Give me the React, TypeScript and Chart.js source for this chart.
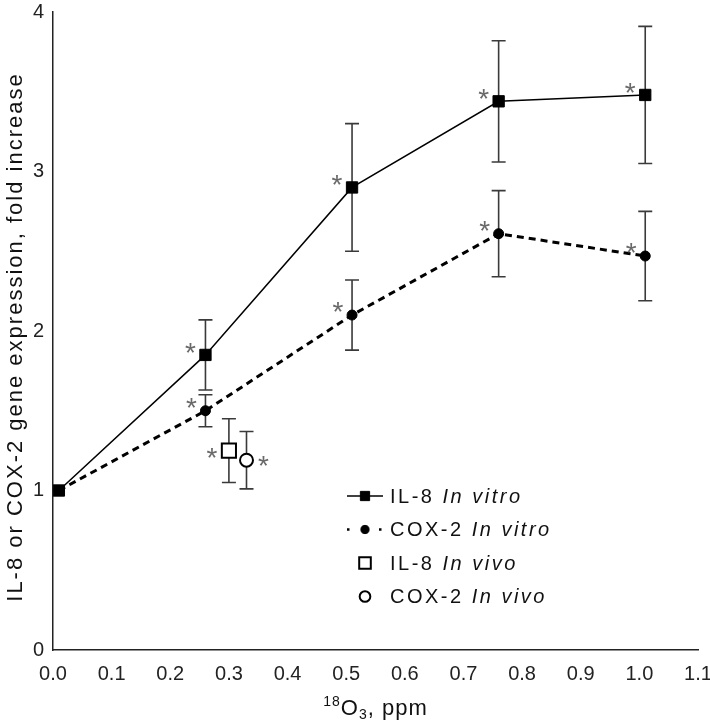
import React, { useEffect, useRef } from "react";
import { Chart, registerables } from "chart.js";

Chart.register(...registerables);

const FONT = '"Liberation Sans", Arial, Helvetica, sans-serif';

// ---------- data ----------
const xTickValues = [0, 0.1, 0.2, 0.3, 0.4, 0.5, 0.6, 0.7, 0.8, 0.9, 1.0, 1.1];
const yTickValues = [0, 1, 2, 3, 4];

const doseInVitro = [0.01, 0.26, 0.51, 0.76, 1.01];
const il8InVitro = [1.0, 1.85, 2.9, 3.44, 3.48];
const il8InVitroErr = [0, 0.22, 0.4, 0.38, 0.43];
const il8InVitroSig = [false, true, true, true, true];

const cox2InVitro = [1.0, 1.5, 2.1, 2.61, 2.47];
const cox2InVitroErr = [0, 0.1, 0.22, 0.27, 0.28];
const cox2InVitroSig = [false, true, true, true, true];

const doseIl8InVivo = [0.3];
const il8InVivo = [1.25];
const il8InVivoErr = [0.2];
const il8InVivoSig = [true];

const doseCox2InVivo = [0.33];
const cox2InVivo = [1.19];
const cox2InVivoErr = [0.18];
const cox2InVivoSig = [true];

const legendGene = ["IL-8", "COX-2", "IL-8", "COX-2"];
const legendCondition = ["In vitro", "In vitro", "In vivo", "In vivo"];

const toPoints = (xs: number[], ys: number[]) => xs.map((x, i) => ({ x, y: ys[i] }));

// ---------- plugins ----------
const spacingPlugin = {
  id: "spacing",
  beforeDraw(chart: any) {
    (chart.ctx as any).letterSpacing = "0px";
  },
};

const errorBarPlugin = {
  id: "errorBars",
  beforeDatasetsDraw(chart: any) {
    const ctx = chart.ctx;
    const xs = chart.scales.x;
    const ys = chart.scales.y;
    ctx.save();
    ctx.strokeStyle = "#3a3a3a";
    ctx.lineWidth = 1.6;
    ctx.setLineDash([]);
    chart.data.datasets.forEach((ds: any) => {
      if (!ds.errors) return;
      ds.data.forEach((p: any, j: number) => {
        const e = ds.errors[j];
        if (!e) return;
        const x = xs.getPixelForValue(p.x);
        const yt = ys.getPixelForValue(p.y + e);
        const yb = ys.getPixelForValue(p.y - e);
        ctx.beginPath();
        ctx.moveTo(x, yt);
        ctx.lineTo(x, yb);
        ctx.moveTo(x - 7, yt);
        ctx.lineTo(x + 7, yt);
        ctx.moveTo(x - 7, yb);
        ctx.lineTo(x + 7, yb);
        ctx.stroke();
      });
    });
    ctx.restore();
  },
};

const asteriskPlugin = {
  id: "asterisks",
  afterDatasetsDraw(chart: any) {
    const ctx = chart.ctx;
    const xs = chart.scales.x;
    const ys = chart.scales.y;
    ctx.save();
    ctx.fillStyle = "#6a6a6a";
    ctx.font = `28px ${FONT}`;
    (ctx as any).letterSpacing = "0px";
    ctx.textAlign = "center";
    ctx.textBaseline = "alphabetic";
    const m = ctx.measureText("*");
    const half = (m.actualBoundingBoxAscent - m.actualBoundingBoxDescent) / 2;
    chart.data.datasets.forEach((ds: any) => {
      if (!ds.sig) return;
      const [dx, dy] = ds.starOffset;
      ds.data.forEach((p: any, j: number) => {
        if (!ds.sig[j]) return;
        const x = xs.getPixelForValue(p.x) + dx;
        const y = ys.getPixelForValue(p.y) + dy;
        ctx.fillText("*", x, y + half);
      });
    });
    ctx.restore();
  },
};

function drawMarker(ctx: CanvasRenderingContext2D, style: string, r: number, x: number, y: number, fill: string, lw: number) {
  ctx.beginPath();
  if (style === "rect") {
    const s = Math.SQRT1_2 * r;
    ctx.rect(x - s, y - s, 2 * s, 2 * s);
  } else {
    ctx.arc(x, y, r, 0, Math.PI * 2);
  }
  ctx.fillStyle = fill;
  ctx.fill();
  ctx.lineWidth = lw;
  ctx.strokeStyle = "#000";
  ctx.stroke();
}

const legendPlugin = {
  id: "customLegend",
  afterDraw(chart: any) {
    const ctx = chart.ctx;
    const area = chart.chartArea;
    const x0 = area.left + 294;
    const x1 = area.left + 330;
    const xm = (x0 + x1) / 2;
    const xt = area.left + 337;
    const y0 = area.top + 484;
    const dy = 33.5;
    ctx.save();
    chart.data.datasets.forEach((ds: any, i: number) => {
      const y = y0 + i * dy;
      if (ds.showLine !== false) {
        ctx.beginPath();
        ctx.strokeStyle = "#000";
        if (ds.borderDash && ds.borderDash.length) {
          ctx.setLineDash([2.5, 13.5]);
          ctx.lineWidth = 2.5;
        } else {
          ctx.setLineDash([]);
          ctx.lineWidth = 1.5;
        }
        ctx.moveTo(x0, y);
        ctx.lineTo(x1, y);
        ctx.stroke();
        ctx.setLineDash([]);
      }
      drawMarker(ctx, ds.pointStyle, ds.pointRadius * 0.82, xm, y, ds.pointBackgroundColor, ds.pointBorderWidth);
      ctx.fillStyle = "#111";
      (ctx as any).letterSpacing = "2.5px";
      ctx.textAlign = "left";
      ctx.textBaseline = "middle";
      ctx.font = `20px ${FONT}`;
      const a = legendGene[i] + " ";
      ctx.fillText(a, xt, y + 1);
      const w = ctx.measureText(a).width;
      ctx.font = `italic 20px ${FONT}`;
      ctx.fillText(legendCondition[i], xt + w, y + 1);
    });
    ctx.restore();
  },
};

const titlesPlugin = {
  id: "axisTitles",
  afterDraw(chart: any) {
    const ctx = chart.ctx;
    const area = chart.chartArea;
    ctx.save();
    ctx.fillStyle = "#111";
    // y title
    ctx.translate(22, (area.top + area.bottom) / 2 + 6);
    ctx.rotate(-Math.PI / 2);
    ctx.font = `22px ${FONT}`;
    (ctx as any).letterSpacing = "2px";
    ctx.textAlign = "center";
    ctx.textBaseline = "alphabetic";
    ctx.fillText("IL-8 or COX-2 gene expression, fold increase", 0, 0);
    ctx.restore();

    // x title: 18O3, ppm
    ctx.save();
    ctx.fillStyle = "#111";
    (ctx as any).letterSpacing = "1px";
    ctx.textAlign = "left";
    ctx.textBaseline = "alphabetic";
    const parts = [
      { t: "18", f: `14px ${FONT}`, dy: -9 },
      { t: "O", f: `22px ${FONT}`, dy: 0 },
      { t: "3", f: `14px ${FONT}`, dy: 4 },
      { t: ", ppm", f: `22px ${FONT}`, dy: 0 },
    ];
    let total = 0;
    const widths = parts.map((p) => {
      ctx.font = p.f;
      const w = ctx.measureText(p.t).width;
      total += w;
      return w;
    });
    let x = (area.left + area.right) / 2 - total / 2;
    const base = area.bottom + 65;
    parts.forEach((p, i) => {
      ctx.font = p.f;
      ctx.fillText(p.t, x, base + p.dy);
      x += widths[i];
    });
    ctx.restore();
  },
};

export default function App() {
  const canvasRef = useRef<HTMLCanvasElement | null>(null);

  useEffect(() => {
    if (!canvasRef.current) return;
    const chart = new Chart(canvasRef.current, {
      type: "line",
      data: {
        datasets: [
          {
            label: "IL-8 In vitro",
            data: toPoints(doseInVitro, il8InVitro),
            borderColor: "#000",
            borderWidth: 1.5,
            pointStyle: "rect",
            pointRadius: 8,
            pointBackgroundColor: "#000",
            pointBorderColor: "#000",
            pointBorderWidth: 1,
            errors: il8InVitroErr,
            sig: il8InVitroSig,
            starOffset: [-15, -7],
          } as any,
          {
            label: "COX-2 In vitro",
            data: toPoints(doseInVitro, cox2InVitro),
            borderColor: "#000",
            borderWidth: 3,
            borderDash: [7, 5],
            pointStyle: "circle",
            pointRadius: 5,
            pointBackgroundColor: "#000",
            pointBorderColor: "#000",
            pointBorderWidth: 1,
            errors: cox2InVitroErr,
            sig: cox2InVitroSig,
            starOffset: [-14, -8],
          } as any,
          {
            label: "IL-8 In vivo",
            data: toPoints(doseIl8InVivo, il8InVivo),
            showLine: false,
            pointStyle: "rect",
            pointRadius: 10,
            pointBackgroundColor: "#fff",
            pointBorderColor: "#000",
            pointBorderWidth: 2,
            errors: il8InVivoErr,
            sig: il8InVivoSig,
            starOffset: [-17, 2],
          } as any,
          {
            label: "COX-2 In vivo",
            data: toPoints(doseCox2InVivo, cox2InVivo),
            showLine: false,
            pointStyle: "circle",
            pointRadius: 6.5,
            pointBackgroundColor: "#fff",
            pointBorderColor: "#000",
            pointBorderWidth: 2,
            errors: cox2InVivoErr,
            sig: cox2InVivoSig,
            starOffset: [17, 1],
          } as any,
        ],
      },
      options: {
        responsive: false,
        animation: false,
        devicePixelRatio: 1,
        layout: { padding: { top: 6, right: 12, left: 0, bottom: 0 } },
        plugins: {
          legend: { display: false },
          tooltip: { enabled: false },
          title: { display: false },
        },
        elements: { line: { tension: 0 } },
        scales: {
          x: {
            type: "linear",
            min: 0,
            max: 1.1,
            afterBuildTicks: (s: any) => {
              s.ticks = xTickValues.map((v) => ({ value: v }));
            },
            afterFit: (s: any) => {
              s.height = 70;
              s.paddingLeft = 0;
              s.paddingRight = 0;
            },
            grid: { display: false, drawTicks: true, tickLength: 7, tickColor: "#222", tickWidth: 1.5 },
            border: { display: true, color: "#222", width: 1.5 },
            ticks: {
              color: "#222",
              font: { family: FONT, size: 20 },
              padding: 5,
              maxRotation: 0,
              autoSkip: false,
              callback: (v: any) => Number(v).toFixed(1),
            },
          },
          y: {
            type: "linear",
            min: 0,
            max: 4,
            afterBuildTicks: (s: any) => {
              s.ticks = yTickValues.map((v) => ({ value: v }));
            },
            afterFit: (s: any) => {
              s.width = 53;
              s.paddingTop = 0;
              s.paddingBottom = 0;
            },
            grid: { display: false, drawTicks: true, tickLength: 6, tickColor: "#222", tickWidth: 1.5 },
            border: { display: true, color: "#222", width: 1.5 },
            ticks: {
              color: "#222",
              font: { family: FONT, size: 20 },
              padding: 3,
              callback: (v: any) => String(v),
            },
          },
        },
      },
      plugins: [spacingPlugin, errorBarPlugin, asteriskPlugin, legendPlugin, titlesPlugin],
    } as any);
    return () => chart.destroy();
  }, []);

  return (
    <div style={{ position: "absolute", left: 0, top: 0, width: 710, height: 720, background: "#fff" }}>
      <canvas ref={canvasRef} width={710} height={720} style={{ display: "block" }} />
    </div>
  );
}
